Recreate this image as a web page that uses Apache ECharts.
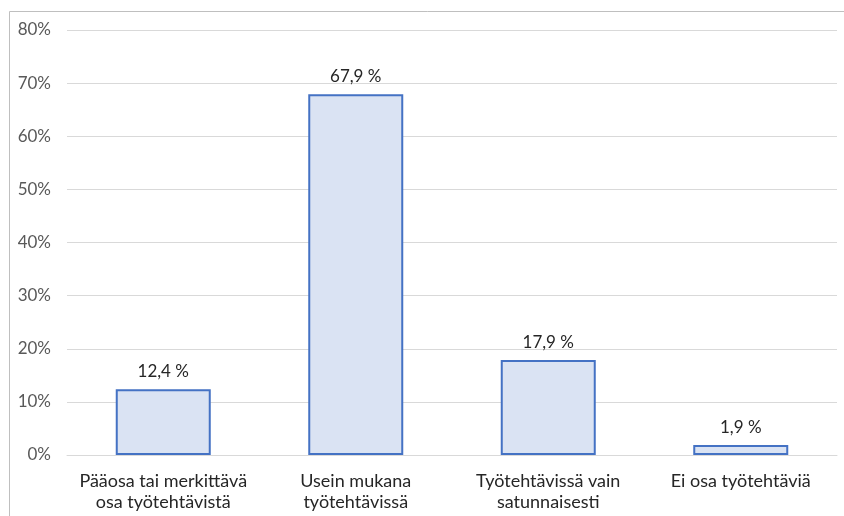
<!DOCTYPE html>
<html>
<head>
<meta charset="utf-8">
<script src="https://cdn.jsdelivr.net/npm/echarts@6/dist/echarts.min.js"></script>
<style>
  html, body { margin: 0; padding: 0; background: #fff; }
  #chart { width: 844px; height: 516px; }
</style>
</head>
<body>
<div id="chart"></div>
<script>
// Share of respondents by how much the topic is part of their work tasks
const categories = [
  'Pääosa tai merkittävä\nosa työtehtävistä',
  'Usein mukana\ntyötehtävissä',
  'Työtehtävissä vain\nsatunnaisesti',
  'Ei osa työtehtäviä'
];
const shares = [12.4, 67.9, 17.9, 1.9];
const yTicks = [0, 10, 20, 30, 40, 50, 60, 70, 80];

const FONT = 'Lato, "Open Sans", sans-serif';

const chart = echarts.init(document.getElementById('chart'), null, { renderer: 'canvas' });

chart.setOption({
  animation: false,
  backgroundColor: '#ffffff',
  graphic: [{
    type: 'rect',
    shape: { x: 9.5, y: 11.5, width: 900, height: 600 },
    style: { fill: 'none', stroke: '#BFBFBF', lineWidth: 1 },
    silent: true
  }],
  grid: { left: 67, right: 7, top: 30, bottom: 61, containLabel: false },
  xAxis: {
    type: 'category',
    data: categories,
    axisLine: { show: true, lineStyle: { color: '#D9D9D9', width: 1 } },
    axisTick: { show: false },
    axisLabel: {
      color: '#262626',
      fontFamily: FONT,
      fontSize: 18,
      lineHeight: 21,
      margin: 16,
      interval: 0
    }
  },
  yAxis: {
    type: 'value',
    min: yTicks[0],
    max: yTicks[yTicks.length - 1],
    interval: 10,
    axisLine: { show: false },
    axisTick: { show: false },
    splitLine: { lineStyle: { color: '#D9D9D9', width: 1 } },
    axisLabel: {
      color: '#595959',
      fontFamily: FONT,
      fontSize: 17,
      margin: 16,
      formatter: v => v + '%'
    }
  },
  series: [{
    type: 'bar',
    data: shares,
    barWidth: 95,
    itemStyle: {
      color: '#DAE3F3',
      borderColor: '#4472C4',
      borderWidth: 2
    },
    label: {
      show: true,
      position: 'top',
      distance: 9,
      color: '#262626',
      fontFamily: FONT,
      fontSize: 17,
      formatter: p => p.value.toFixed(1).replace('.', ',') + ' %'
    }
  }]
});
</script>
</body>
</html>
